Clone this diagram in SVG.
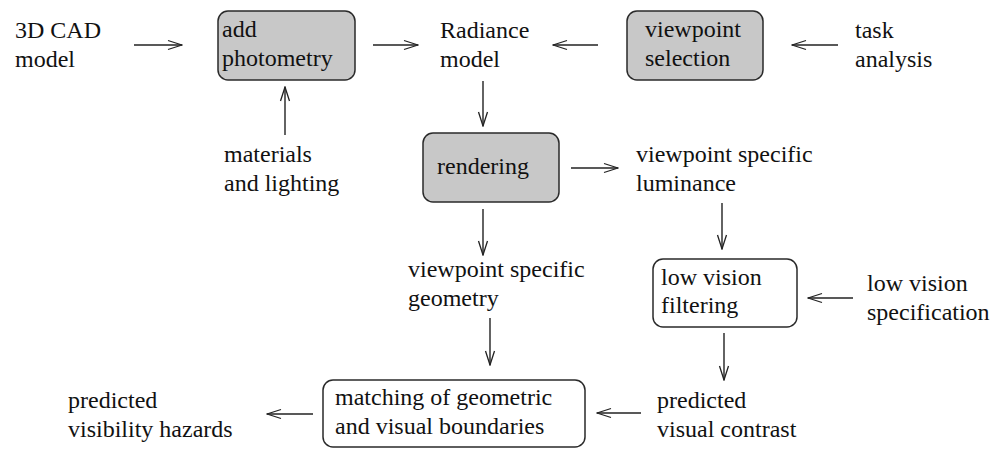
<svg xmlns="http://www.w3.org/2000/svg" width="996" height="449" viewBox="0 0 996 449" font-family="'Liberation Serif', 'Times New Roman', 'DejaVu Serif', serif" font-size="24">
<style>
text{font-family:'Liberation Serif','Times New Roman','DejaVu Serif',serif;font-size:24px;fill:#111}
.box{stroke:#2a2a2a;stroke-width:1.5}
.g{fill:#c8c8c8}
.w{fill:#fff}
.c line{stroke:#222;stroke-width:1.4;marker-end:url(#ah)}
</style>
<defs>
<marker id="ah" viewBox="-16 -6 17 12" markerWidth="17" markerHeight="12" refX="0" refY="0" orient="auto" markerUnits="userSpaceOnUse">
<path d="M-14,-4.5 L0,0 L-14,4.5" fill="none" stroke="#222" stroke-width="1.3"/>
</marker>
</defs>
<rect width="996" height="449" fill="#fff"/>
<g id="cad"><text x="15" y="38">3D CAD</text><text x="15" y="67">model</text></g>
<g id="photometry"><rect class="box g" x="218" y="11" width="137" height="69" rx="10"/><text x="222" y="37">add</text><text x="222" y="66">photometry</text></g>
<g id="radiance"><text x="440" y="38">Radiance</text><text x="440" y="67">model</text></g>
<g id="viewpoint"><rect class="box g" x="627" y="11" width="136" height="69" rx="10"/><text x="645" y="37">viewpoint</text><text x="645" y="66">selection</text></g>
<g id="task"><text x="855" y="38">task</text><text x="855" y="67">analysis</text></g>
<g id="materials"><text x="224" y="162">materials</text><text x="224" y="191">and lighting</text></g>
<g id="rendering"><rect class="box g" x="423" y="133" width="136" height="69" rx="10"/><text x="437" y="174">rendering</text></g>
<g id="luminance"><text x="636" y="162">viewpoint specific</text><text x="636" y="191">luminance</text></g>
<g id="geometry"><text x="408" y="277">viewpoint specific</text><text x="408" y="306">geometry</text></g>
<g id="filtering"><rect class="box w" x="653" y="259" width="144" height="68" rx="10"/><text x="661" y="285">low vision</text><text x="661" y="313">filtering</text></g>
<g id="spec"><text x="867" y="291">low vision</text><text x="867" y="320">specification</text></g>
<g id="matching"><rect class="box w" x="323" y="380" width="262" height="67" rx="10"/><text x="335" y="405">matching of geometric</text><text x="335" y="434">and visual boundaries</text></g>
<g id="contrast"><text x="657" y="408">predicted</text><text x="657" y="437">visual contrast</text></g>
<g id="hazards"><text x="68" y="408">predicted</text><text x="68" y="437">visibility hazards</text></g>
<g id="connectors" class="c">
<line x1="134" y1="45" x2="182" y2="45"/>
<line x1="373" y1="45" x2="418" y2="45"/>
<line x1="598" y1="45" x2="553" y2="45"/>
<line x1="838" y1="45" x2="792" y2="45"/>
<line x1="285" y1="135" x2="285" y2="87"/>
<line x1="483" y1="81" x2="483" y2="126"/>
<line x1="571" y1="168" x2="618" y2="168"/>
<line x1="483" y1="209" x2="483" y2="255"/>
<line x1="722" y1="203" x2="722" y2="249"/>
<line x1="853" y1="298" x2="808" y2="298"/>
<line x1="490" y1="318" x2="490" y2="365"/>
<line x1="724" y1="333" x2="724" y2="380"/>
<line x1="641" y1="413" x2="597" y2="413"/>
<line x1="313" y1="414" x2="267" y2="414"/>
</g>
</svg>
